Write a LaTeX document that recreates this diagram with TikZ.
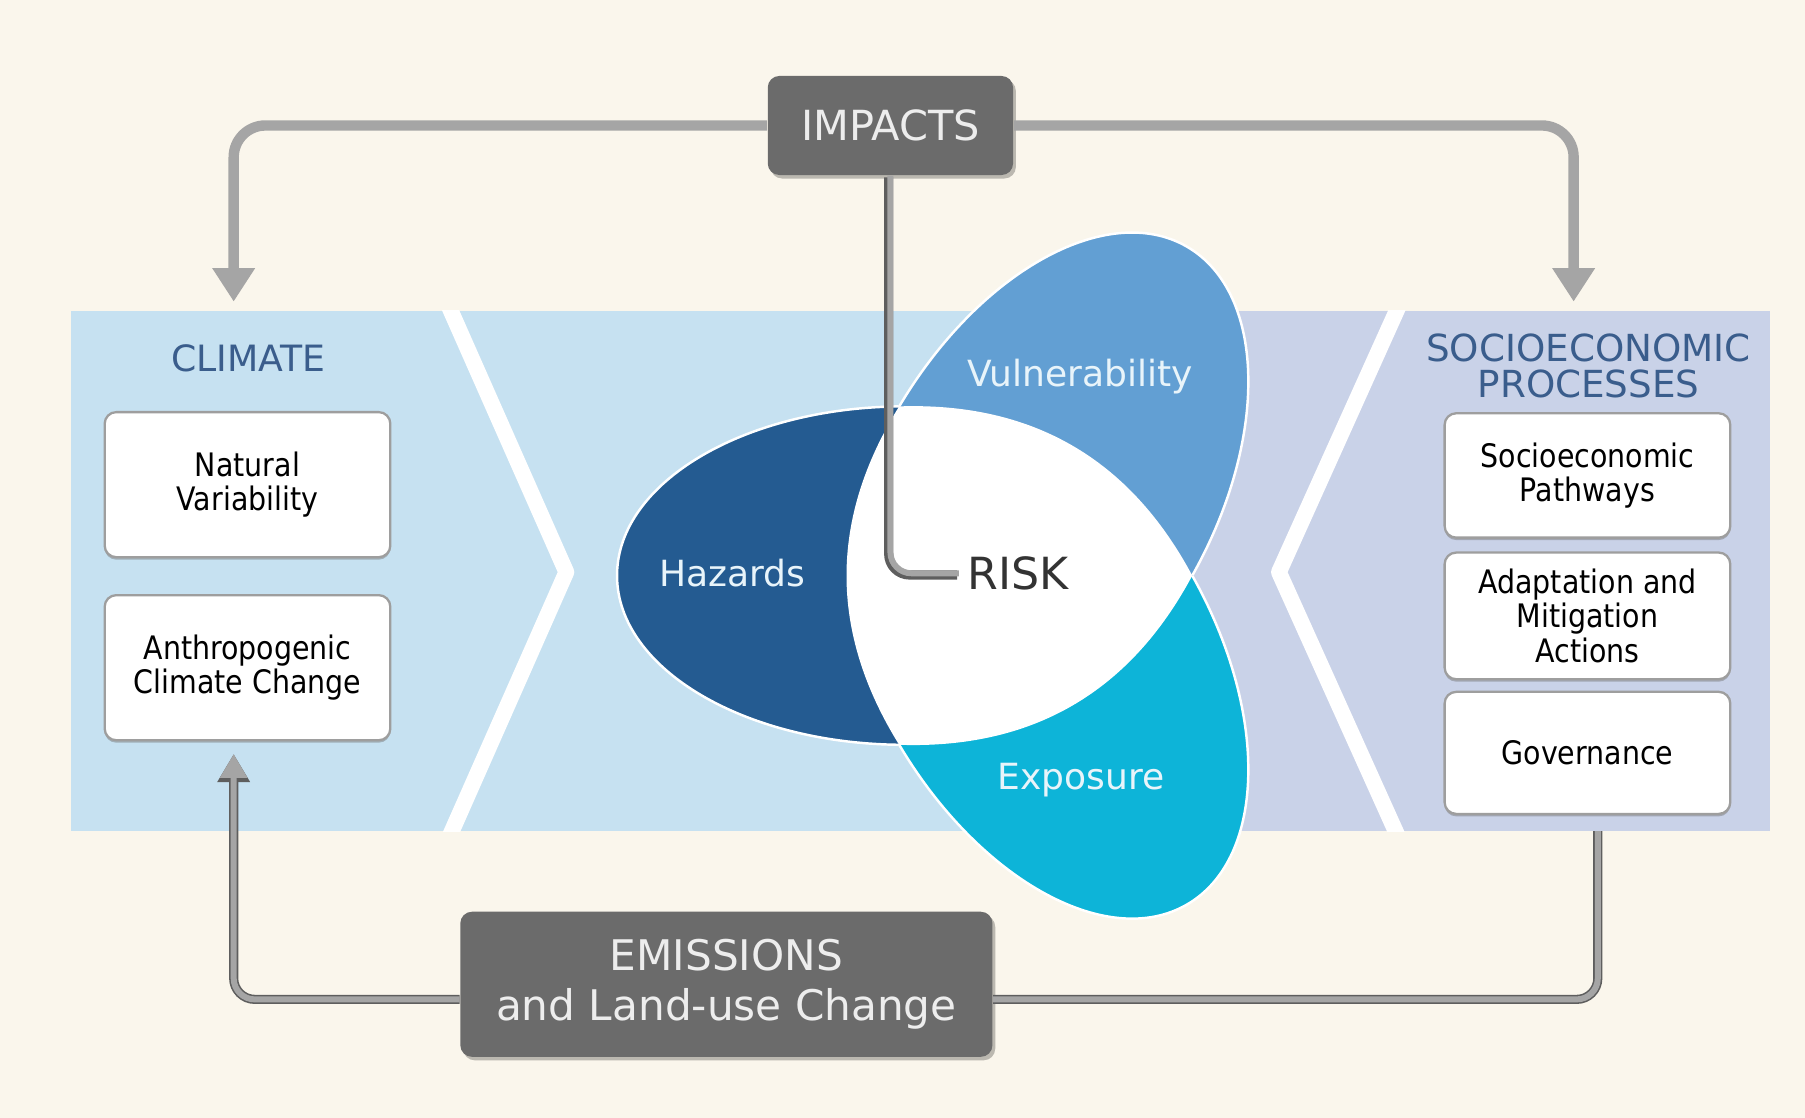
\documentclass[tikz,border=0pt]{standalone}
\usepackage{fontspec}
\setmainfont{DejaVu Sans}
\newfontfamily\boxfont[FakeStretch=0.88]{DejaVu Sans}
\usetikzlibrary{arrows.meta,calc}

\definecolor{bgcream}{HTML}{FAF6EC}
\definecolor{panelblue}{HTML}{C6E1F1}
\definecolor{panellav}{HTML}{C9D2E8}
\definecolor{hazblue}{HTML}{245B91}
\definecolor{vulblue}{HTML}{629FD3}
\definecolor{expcyan}{HTML}{0DB4D8}
\definecolor{darkboxc}{HTML}{6B6B6B}
\definecolor{conngray}{HTML}{A5A5A5}
\definecolor{connedge}{HTML}{5E5E5E}
\definecolor{titleblue}{HTML}{3A5D8C}
\definecolor{boxedge}{HTML}{9E9E9E}
\definecolor{petaltext}{HTML}{E8F4FA}
\definecolor{risktext}{HTML}{333333}

\tikzset{
  darkbox/.style={fill=darkboxc, rounded corners=3.3pt, text=white!93!black,
    inner sep=0pt, align=center,
    preaction={fill=black, opacity=0.25, transform canvas={xshift=0.8pt, yshift=-1pt}}},
  wbox/.style={fill=white, draw=boxedge, line width=0.65pt, rounded corners=3.3pt,
    minimum width=28.55mm, inner sep=0pt, align=center, text=black,
    font=\boxfont\fontsize{9.2pt}{9.8pt}\selectfont,
    preaction={fill=black!55, opacity=0.45, transform canvas={yshift=-0.7pt}}},
  paneltitle/.style={text=titleblue, align=center, inner sep=0pt},
  petallabel/.style={text=petaltext, inner sep=0pt, font=\fontsize{10.25pt}{12pt}\selectfont},
  bigconn/.style={draw=conngray, line width=2.95pt, rounded corners=9pt,
    -{Triangle[width=11.5pt,length=9.5pt]}},
  connunder/.style={draw=connedge, line width=2.6pt, rounded corners=6pt},
  connover/.style={draw=conngray, line width=1.7pt, rounded corners=6pt},
}

\begin{document}
\begin{tikzpicture}[x=0.011511cm, y=-0.011511cm]
\useasboundingbox (0,0) rectangle (1568,971);
\fill[bgcream] (0,0) rectangle (1568,971);

% panels
\fill[panelblue] (62,270) rectangle (1000,722);
\fill[panellav] (1000,270) rectangle (1538,722);
\shade[left color=panelblue, right color=panellav] (960,270) rectangle (1040,722);
\begin{scope}
  \clip (62,270) rectangle (1538,722);
  \draw[white, line width=4.5pt, line join=round] (385,255) -- (492,497) -- (385,739);
  \draw[white, line width=4.5pt, line join=round] (1220,255) -- (1111,497) -- (1220,739);
\end{scope}

% petals
\coordinate (G) at (866,500);
\coordinate (T) at (781.1,353);
\coordinate (R) at (1035.7,500);
\coordinate (B) at (781.1,647);
\coordinate (hc) at (786,500);
\coordinate (vc) at (906,430.7);
\coordinate (ec) at (906,569.3);

\begin{scope}
  \clip (G) -- ($(G)!5!(T)$) -- (-500,-300) -- (-500,1300) -- ($(G)!5!(B)$) -- cycle;
  \fill[hazblue] (hc) ellipse [x radius=250, y radius=147];
  \draw[white, line width=0.7pt] (hc) ellipse [x radius=250, y radius=147];
\end{scope}
\begin{scope}
  \clip (G) -- ($(G)!5!(T)$) -- (1800,-300) -- ($(G)!5!(R)$) -- cycle;
  \fill[vulblue, rotate around={60:(vc)}] (vc) ellipse [x radius=250, y radius=147];
  \draw[white, line width=0.7pt, rotate around={60:(vc)}] (vc) ellipse [x radius=250, y radius=147];
\end{scope}
\begin{scope}
  \clip (G) -- ($(G)!5!(R)$) -- (1800,1300) -- ($(G)!5!(B)$) -- cycle;
  \fill[expcyan, rotate around={-60:(ec)}] (ec) ellipse [x radius=250, y radius=147];
  \draw[white, line width=0.7pt, rotate around={-60:(ec)}] (ec) ellipse [x radius=250, y radius=147];
\end{scope}
\fill[white] (T) .. controls (896.5,349.2) and (981.3,398.2) .. (R)
  .. controls (981.3,601.8) and (896.5,650.8) .. (B)
  .. controls (720.1,549) and (720.1,451) .. (T) -- cycle;

\node[petallabel] (haz) at (636,498) {Hazards};
\node[petallabel] (vul) at (938,327) {Vulnerability};
\node[petallabel] (exp) at (939,678) {Exposure};
\node[anchor=west, inner sep=0pt, text=risktext, font=\fontsize{12.6pt}{14pt}\selectfont] (risk) at (840,498) {RISK};

% titles
\node[paneltitle, font=\fontsize{10.3pt}{12pt}\selectfont] (climate) at (216,311) {CLIMATE};
\node[paneltitle, font=\fontsize{10.6pt}{10.2pt}\selectfont] (socio) at (1380,318) {SOCIOECONOMIC\\PROCESSES};

% white boxes
\node[wbox, minimum height=14.5mm] (natvar) at (215,421) {Natural\\Variability};
\node[wbox, minimum height=14.5mm] (anthro) at (215,580) {Anthropogenic\\Climate Change};
\node[wbox, minimum height=12.43mm] (socpath) at (1379,413) {Socioeconomic\\Pathways};
\node[wbox, minimum height=12.66mm] (adapt) at (1379,535) {Adaptation and\\Mitigation\\Actions};
\node[wbox, minimum height=12.2mm] (gov) at (1379,654) {Governance};

% dark boxes
\node[darkbox, minimum width=24.52mm, minimum height=9.9mm,
  font=\fontsize{11.8pt}{14pt}\selectfont] (impacts) at (773.5,109) {IMPACTS};
\node[darkbox, minimum width=53.18mm, minimum height=14.5mm,
  font=\fontsize{12.0pt}{14.4pt}\selectfont] (emissions) at (631,855) {EMISSIONS\\and Land-use Change};

% connector end points
\coordinate (climtip) at (203,262);
\coordinate (socitip) at (1367,262);
\coordinate (anthtip) at (203,655);
\coordinate (sebot) at (1388,722);

% connectors
\draw[bigconn] (impacts.west) -| (climtip);
\draw[bigconn] (impacts.east) -| (socitip);

\draw[connunder, transform canvas={xshift=-0.5pt, yshift=-0.5pt}] (impacts.south) |- ([xshift=-2.3pt]risk.west);
\draw[connover] (impacts.south) |- ([xshift=-2.3pt]risk.west);

\draw[connunder, -{Triangle[width=8.8pt,length=8pt]}] ([yshift=-4.3pt]emissions.west) -| (anthtip);
\draw[connover, -{Triangle[width=7.4pt,length=6.8pt]}] ([yshift=-4.3pt]emissions.west) -| (anthtip);

\draw[connunder] (sebot) |- ([yshift=-4.3pt]emissions.east);
\draw[connover] (sebot) |- ([yshift=-4.3pt]emissions.east);
\end{tikzpicture}
\end{document}
